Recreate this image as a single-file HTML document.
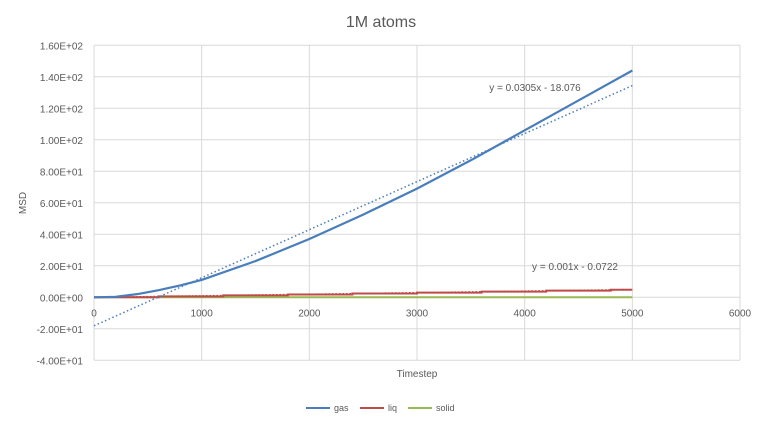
<!DOCTYPE html>
<html><head><meta charset="utf-8"><style>
body{margin:0;background:#fff;font-family:"Liberation Sans",sans-serif}
svg text{font-family:"Liberation Sans",sans-serif;fill:#595959}
</style></head><body>
<svg width="763" height="421">
<rect width="763" height="421" fill="#fff"/>
<text x="381" y="27" font-size="16" text-anchor="middle">1M atoms</text>
<g id="grid"></g><g id="series"></g><g id="labels"></g>
<text transform="translate(26,203) rotate(-90)" font-size="10" text-anchor="middle">MSD</text>
<text x="417" y="377" font-size="10" text-anchor="middle">Timestep</text>
<text x="535" y="91" font-size="10" text-anchor="middle">y = 0.0305x - 18.076</text>
<text x="575" y="270" font-size="10" text-anchor="middle">y = 0.001x - 0.0722</text>
<g>
<line x1="306" y1="408" x2="330" y2="408" stroke="#4a7ebb" stroke-width="2"/>
<text x="334" y="411" font-size="9">gas</text>
<line x1="360" y1="408" x2="384" y2="408" stroke="#be4b48" stroke-width="2"/>
<text x="388" y="411" font-size="9">liq</text>
<line x1="408" y1="408" x2="432" y2="408" stroke="#98b954" stroke-width="2"/>
<text x="436" y="411" font-size="9">solid</text>
</g>
</svg>
<script>
const xTicks=[0,1000,2000,3000,4000,5000,6000];
const yTicks=[-40,-20,0,20,40,60,80,100,120,140,160];
const yTickLabels=["-4.00E+01","-2.00E+01","0.00E+00","2.00E+01","4.00E+01","6.00E+01","8.00E+01","1.00E+02","1.20E+02","1.40E+02","1.60E+02"];
const gasX=[0,200,400,600,800,1000,1500,2000,2500,3000,3500,4000,4500,5000];
const gasY=[0,0.3,2,4.5,7.5,11,23,37,52.5,69,87,106,125,144];
const liqX=[0,600,600,1200,1200,1800,1800,2400,2400,3000,3000,3600,3600,4200,4200,4800,4800,5000];
const liqY=[0,0,0.6,0.6,1.2,1.2,1.8,1.8,2.4,2.4,3,3,3.6,3.6,4.2,4.2,4.8,4.8];
const solidX=[0,5000];
const solidY=[0,0];
const gasFit=[0.0305,-18.076];
const liqFit=[0.001,-0.0722];
const X=v=>94+v*(740-94)/6000;
const Y=v=>297.3-v*(297.3-45.3)/160;
const NS="http://www.w3.org/2000/svg";
const grid=document.getElementById('grid'),ser=document.getElementById('series'),lab=document.getElementById('labels');
function mk(tag,attrs,parent){const e=document.createElementNS(NS,tag);for(const k in attrs)e.setAttribute(k,attrs[k]);parent.appendChild(e);return e;}
xTicks.forEach(t=>{
 const l=mk('line',{x1:X(t),x2:X(t),y1:Y(160),y2:Y(-40),stroke:'#d9d9d9'},grid);
 
 
 const tx=mk('text',{x:X(t),y:Y(0)+19,'font-size':10,'text-anchor':'middle'},lab);tx.textContent=t;
 
 
});
yTicks.forEach((t,i)=>{
 const l=mk('line',{x1:X(0),x2:X(6000),y1:Y(t),y2:Y(t),stroke:'#d9d9d9'},grid);
 
 
 const tx=mk('text',{x:83,y:Y(t)+4,'font-size':10,'text-anchor':'end'},lab);tx.textContent=yTickLabels[i];
 
 
});
function pl(xs,ys,col,w,name,dash){
 const p=mk('polyline',{points:xs.map((x,i)=>X(x)+','+Y(ys[i])).join(' '),fill:'none',stroke:col,'stroke-width':w},ser);
 if(dash)p.setAttribute('stroke-dasharray',dash);
 
 
}
pl(solidX,solidY,'#98b954',2,'solid-series');
pl(liqX,liqY,'#be4b48',2,'liq-series');
pl([0,5000],[liqFit[1],liqFit[0]*5000+liqFit[1]],'#be4b48',1.5,'liq-trendline','1.5 2');
pl(gasX,gasY,'#4a7ebb',2.2,'gas-series');
pl([0,5000],[gasFit[1],gasFit[0]*5000+gasFit[1]],'#4a7ebb',1.5,'gas-trendline','1.5 2.5');
</script>
</body></html>
